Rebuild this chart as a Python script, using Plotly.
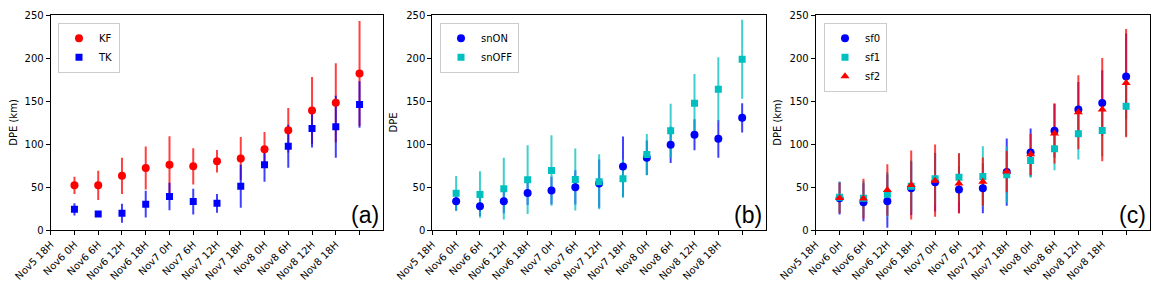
import plotly.graph_objects as go

labels = ["Nov5 18H", "Nov6 0H", "Nov6 6H", "Nov6 12H", "Nov6 18H", "Nov7 0H", "Nov7 6H",
          "Nov7 12H", "Nov7 18H", "Nov8 0H", "Nov8 6H", "Nov8 12H", "Nov8 18H"]
xpos = list(range(1, 14))

# panel (a)
kf = [52, 52, 63, 72, 76, 74, 80, 83, 94, 116, 139, 148, 182]
kf_err = [10, 17, 21, 25, 33, 21, 13, 25, 20, 26, 39, 46, 61]
tk = [24, 18.5, 19.5, 30, 39, 33, 31, 51, 76, 97.5, 118, 120, 146]
tk_err = [7, 2, 11, 15.5, 16, 15, 11, 25, 20, 25, 22, 36, 27]

# panel (b)
snon = [33.5, 27.7, 33.5, 43, 46, 49.6, 54, 73.8, 84, 99, 110.8, 106, 130.4]
snon_err = [11, 11.5, 14, 14, 16, 20, 28, 35, 20, 21, 18, 22, 17]
snoff = [42.7, 41.2, 48.1, 58.5, 69.2, 58.8, 56.2, 59.6, 87.7, 115.4, 147.3, 163.8, 198.5]
snoff_err = [20, 27, 36, 40, 41, 36, 32, 22, 24, 31.5, 34, 37, 46]

# panel (c)
sf0 = [37, 32.3, 33.5, 48.5, 55.4, 47, 48.5, 67.3, 90, 115.4, 140, 147.7, 178.5]
sf0_err = [19, 22, 31, 31, 34, 27, 29, 39, 28, 31, 32, 38, 50]
sf1 = [38, 36.9, 41.5, 50.8, 59.6, 61.2, 62.3, 64.2, 80.8, 94.6, 112, 115.8, 143.8]
sf1_err = [18, 20, 26, 30, 30, 28, 35, 33, 20, 25, 30, 30, 35]
sf2 = [37.3, 36.5, 46.5, 52.3, 57.3, 54.2, 56.2, 68, 88, 112.3, 137, 140, 170.8]
sf2_err = [17.5, 23, 30, 40, 42, 35, 28, 24, 24, 35, 43, 60, 63]

RED = "#ff0000"
BLUE = "#0000ff"
CYAN = "#00bfbf"
ERR = {RED: "rgba(255,0,0,0.75)", BLUE: "rgba(0,0,255,0.75)", CYAN: "rgba(0,191,191,0.75)"}

# page body has an 8px default margin; figure coordinates are offset accordingly
OFF = 8
W, H = 1161 - OFF, 289 - OFF
MT = 15 - OFF
MB = H - (230 - OFF)
domains = [(50.7, 383.3), (432.3, 766.0), (815.7, 1150.0)]

panels = [
    ("x", "y", "legend", [("KF", kf, kf_err, RED, "circle"), ("TK", tk, tk_err, BLUE, "square")],
     "DPE (km)", "(a)", (58, 22.7)),
    ("x2", "y2", "legend2", [("snON", snon, snon_err, BLUE, "circle"), ("snOFF", snoff, snoff_err, CYAN, "square")],
     "DPE", "(b)", (440, 22.7)),
    ("x3", "y3", "legend3", [("sf0", sf0, sf0_err, BLUE, "circle"), ("sf1", sf1, sf1_err, CYAN, "square"),
                              ("sf2", sf2, sf2_err, RED, "triangle-up")],
     "DPE (km)", "(c)", (824, 22.7)),
]

fig = go.Figure()
layout = {}
annotations = []
for i, (xa, ya, lg, series, ytitle, tag, lpos) in enumerate(panels):
    # error bars first (drawn beneath all markers)
    for name, vals, err, col, sym in series:
        fig.add_trace(go.Scatter(
            x=xpos, y=vals, xaxis=xa, yaxis=ya, mode="markers",
            marker=dict(size=8, color=col, opacity=0),
            error_y=dict(type="data", array=err, visible=True, color=ERR[col], thickness=2, width=0),
            showlegend=False, hoverinfo="skip"))
    for name, vals, err, col, sym in series:
        fig.add_trace(go.Scatter(
            x=xpos, y=vals, xaxis=xa, yaxis=ya, mode="markers", name=name, legend=lg,
            marker=dict(size=8 if sym == "circle" else (7 if sym == "square" else 8), color=col, symbol=sym)))
    suffix = "" if i == 0 else str(i + 1)
    d0, d1 = domains[i]
    layout["xaxis" + suffix] = dict(
        domain=[(d0 - OFF) / W, (d1 - OFF) / W], range=[0, 14], tickvals=list(range(14)),
        ticktext=labels + [""],
        tickangle=-45, showline=True, mirror=True, linecolor="black", linewidth=1,
        ticks="outside", ticklen=4, tickcolor="black", showgrid=False, zeroline=False,
        automargin=False, anchor="y" + suffix, tickfont=dict(size=10, color="black"))
    layout["yaxis" + suffix] = dict(
        domain=[0, 1], range=[0, 250], tickvals=[0, 50, 100, 150, 200, 250],
        showline=True, mirror=True, linecolor="black", linewidth=1,
        ticks="outside", ticklen=4, tickcolor="black", showgrid=False, zeroline=False,
        automargin=False, anchor="x" + suffix, tickfont=dict(size=10, color="black"),
        title=dict(text=ytitle, font=dict(size=10, color="black"), standoff=6))
    lx, ly = lpos
    layout[lg] = dict(
        x=(lx - OFF) / W, y=(H - MB - (ly - OFF)) / (H - MT - MB), xanchor="left", yanchor="top",
        bgcolor="white", bordercolor="#cccccc", borderwidth=1,
        font=dict(size=10, color="black"), tracegroupgap=0, itemwidth=30)
    annotations.append(dict(
        text=tag, xref="x" + suffix + " domain", yref="y" + suffix + " domain",
        x=1, y=0, xanchor="right", yanchor="bottom", xshift=-2, yshift=0, showarrow=False,
        font=dict(size=23, color="black", family="Liberation Sans")))

fig.update_layout(
    width=W, height=H, margin=dict(l=0, r=0, t=MT, b=MB, autoexpand=False),
    paper_bgcolor="white", plot_bgcolor="white",
    font=dict(family="DejaVu Sans", size=10, color="black"),
    annotations=annotations, **layout)

fig.write_html("out.html")
